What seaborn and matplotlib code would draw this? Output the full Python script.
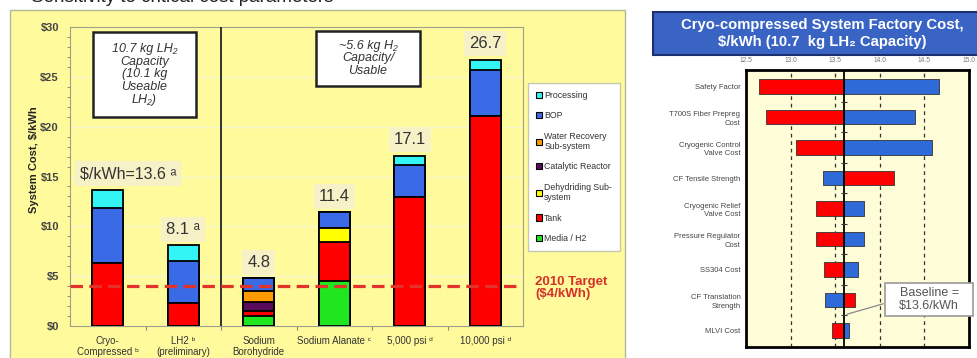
import numpy as np
import pandas as pd
import matplotlib
matplotlib.use("Agg")
import matplotlib.pyplot as plt
from matplotlib.patches import Rectangle, Patch
from matplotlib.ticker import MultipleLocator
import seaborn as sns

# ---- System cost breakdown, $/kWh (stacked bottom -> top) ----
categories = ["Cryo-\nCompressed ᵇ", "LH2 ᵇ\n(preliminary)", "Sodium\nBorohydride",
              "Sodium Alanate ᶜ", "5,000 psi ᵈ", "10,000 psi ᵈ"]
components = ["Media / H2", "Tank", "Dehydriding Sub-\nsystem", "Catalytic Reactor",
              "Water Recovery\nSub-system", "BOP", "Processing"]
media = [0.0, 0.0, 1.0, 4.5, 0.0, 0.0]
tank = [6.3, 2.3, 0.5, 3.9, 12.9, 21.1]
dehydriding = [0.0, 0.0, 0.0, 1.4, 0.0, 0.0]
catalytic = [0.0, 0.0, 0.9, 0.0, 0.0, 0.0]
water_recovery = [0.0, 0.0, 1.1, 0.0, 0.0, 0.0]
bop = [5.5, 4.2, 1.3, 1.6, 3.3, 4.6]
processing = [1.8, 1.6, 0.0, 0.0, 0.9, 1.0]
totals = [13.6, 8.1, 4.8, 11.4, 17.1, 26.7]
total_notes = ["ᵃ", "ᵃ", "", "", "", ""]
target = 4.0

comp_colors = ["#1fe61f", "#ff0000", "#ffff00", "#5a0a5a", "#ff9a00", "#3a6ae6", "#33f5f5"]

# ---- Cryo-compressed sensitivity (tornado), $/kWh ----
params = ["Safety Factor", "T700S Fiber Prepreg\nCost", "Cryogenic Control\nValve Cost",
          "CF Tensile Strength", "Cryogenic Relief\nValve Cost", "Pressure Regulator\nCost",
          "SS304 Cost", "CF Translation\nStrength", "MLVI Cost"]
red_end = [12.65, 12.72, 13.06, 14.16, 13.29, 13.29, 13.37, 13.72, 13.46]
blue_end = [14.66, 14.40, 14.59, 13.36, 13.82, 13.82, 13.75, 13.39, 13.65]
baseline = 13.6
sens_ticks = [12.5, 13.0, 13.5, 14.0, 14.5, 15.0]

sns.set_style("white")
plt.rcParams["font.family"] = ["Liberation Sans", "DejaVu Sans"]

W, H = 977, 358
fig = plt.figure(figsize=(W / 100, H / 100), dpi=100, facecolor="white")


def fx(px):
    return px / W


def fy(py):
    return 1 - py / H


def box(x0, y0, x1, y1, **kw):
    r = Rectangle((fx(x0), fy(y1)), fx(x1) - fx(x0), fy(y0) - fy(y1),
                  transform=fig.transFigure, **kw)
    fig.add_artist(r)
    return r


YELLOW = "#fffb9c"

# slide heading running off the top edge
fig.text(fx(333), fy(1.5), "Sensitivity to critical cost parameters", ha="right",
         va="baseline", fontsize=13.5, color="#222222")

# left panel background
box(10, 10, 625, 365, facecolor=YELLOW, edgecolor="#b5b59a", lw=1.0, zorder=-1)

# ---------------- stacked bar chart ----------------
ax = fig.add_axes([fx(70), fy(326), fx(523) - fx(70), fy(27) - fy(326)])
ax.set_facecolor(YELLOW)

layers = [media, tank, dehydriding, catalytic, water_recovery, bop, processing]
cum = np.zeros(len(categories))
cums = []
for vals in layers:
    cum = cum + np.array(vals)
    cums.append(cum.copy())

for name, color, cvals in reversed(list(zip(components, comp_colors, cums))):
    df = pd.DataFrame({"category": categories, "cost": cvals})
    sns.barplot(data=df, x="category", y="cost", order=categories, color=color,
                saturation=1, width=0.41, edgecolor="black", linewidth=1.3,
                errorbar=None, ax=ax, zorder=2)

ax.set_xlim(-0.5, 5.5)
ax.set_ylim(0, 30)
ax.set_yticks(range(0, 31, 5))
ax.set_yticklabels([f"${v}" for v in range(0, 31, 5)])
ax.yaxis.set_minor_locator(MultipleLocator(1))
ax.tick_params(axis="y", which="major", length=4, width=0.8, color="#8a8a70",
               labelsize=8, labelcolor="#444444", pad=4)
ax.tick_params(axis="y", which="minor", length=2.5, width=0.7, color="#8a8a70", left=True)
for lbl in ax.get_yticklabels():
    lbl.set_fontweight("bold")
ax.set_xticks(range(len(categories)))
ax.set_xticklabels(categories, fontsize=7, color="#333333", linespacing=1.2)
ax.set_xticks(np.arange(0.5, 5.5, 1.0), minor=True)
ax.tick_params(axis="x", which="major", length=0, pad=7)
ax.tick_params(axis="x", which="minor", length=3, width=0.8, color="#8a8a70", bottom=True)
ax.set_xlabel("")
ax.set_ylabel("System Cost, $/kWh", fontsize=8, fontweight="bold", color="#222222")
ax.yaxis.set_label_coords((39 - 70) / 453, (326 - 160) / 299)
ax.grid(axis="y", color="#f9f6d2", lw=1.0)
ax.set_axisbelow(True)
for s in ax.spines.values():
    s.set_color("#a0a088")
    s.set_linewidth(0.8)

ax.axvline(1.5, color="#222222", lw=1.3, zorder=3)
ax.plot([-0.5, 5.46], [target, target], color="#e2332a", lw=2.3, dashes=(3.9, 2),
        zorder=6, clip_on=False)

label_bg = dict(boxstyle="square,pad=0.3", fc="#f6f1c6", ec="none")
for i, (t, note) in enumerate(zip(totals, total_notes)):
    txt = f"{t:.1f}" + (f" {note}" if note else "")
    if i == 0:
        ax.text(-0.37, t + 1.7, "$/kWh=" + txt, ha="left", va="center", fontsize=11.5,
                color="#333333", bbox=label_bg, zorder=5)
    else:
        ax.text(i, t + 1.6, txt, ha="center", va="center", fontsize=12,
                color="#333333", bbox=label_bg, zorder=5)

# capacity boxes
box(93, 32, 196, 117, facecolor="white", edgecolor="#222222", lw=1.8, zorder=4)
fig.text(fx(144.5), fy(74.5), "10.7 kg LH₂\nCapacity\n(10.1 kg\nUseable\nLH₂)",
         ha="center", va="center", fontsize=9, style="italic", color="#333333",
         linespacing=1.1, zorder=5)
box(316, 31, 420, 86, facecolor="white", edgecolor="#222222", lw=1.8, zorder=4)
fig.text(fx(368), fy(58.5), "~5.6 kg H₂\nCapacity/\nUsable", ha="center", va="center",
         fontsize=9, style="italic", color="#333333", linespacing=1.1, zorder=5)

fig.text(fx(535), fy(287.5), "2010 Target\n($4/kWh)", color="#d6302a", fontsize=9.5,
         fontweight="bold", ha="left", va="center", linespacing=1.0)

handles = [Patch(facecolor=c, edgecolor="black", lw=0.8, label=n)
           for n, c in reversed(list(zip(components, comp_colors)))]
fig.legend(handles=handles, loc="upper left", bbox_to_anchor=(fx(528), fy(83)),
           fontsize=6.3, frameon=True, framealpha=1, edgecolor="#c8c8b0", fancybox=False,
           handlelength=0.7, handleheight=0.7, handletextpad=0.25, labelspacing=1.3,
           borderpad=0.9, borderaxespad=0, labelcolor="#333333")

# ---------------- tornado chart ----------------
box(653, 12, 985, 55, facecolor="#3a64c4", edgecolor="#1c2f6e", lw=1.5, zorder=1)
fig.text(fx(822), fy(33.5), "Cryo-compressed System Factory Cost,\n$/kWh (10.7  kg LH₂ Capacity)",
         ha="center", va="center", color="white", fontsize=10.7, fontweight="bold",
         linespacing=1.25, zorder=2)

ax2 = fig.add_axes([fx(746), fy(347), fx(969) - fx(746), fy(70) - fy(347)])
ax2.set_facecolor("#fffcd8")
ypos = np.arange(len(params))
ax2.barh(ypos, np.array(red_end) - baseline, left=baseline, height=0.48,
         color="#ff0000", edgecolor="#333333", lw=0.6, zorder=2)
ax2.barh(ypos, np.array(blue_end) - baseline, left=baseline, height=0.48,
         color="#2f6bd8", edgecolor="#333333", lw=0.6, zorder=2)
for v in sens_ticks[1:-1]:
    ax2.axvline(v, color="#333333", lw=0.9, ls=(0, (3, 3)), zorder=1)
ax2.axvline(baseline, color="black", lw=1.3, zorder=3)
ax2.plot([baseline] * (len(params) - 1), ypos[:-1] + 0.5, ls="none", marker="_",
         ms=4, mew=0.8, color="#333333", zorder=3)
ax2.set_xlim(12.5, 15.0)
ax2.set_ylim(len(params) - 0.45, -0.55)
ax2.xaxis.tick_top()
ax2.set_xticks(sens_ticks)
ax2.set_xticklabels([f"{v:.1f}" for v in sens_ticks])
ax2.tick_params(axis="x", length=0, labelsize=4.8, labelcolor="#777777", pad=4)
ax2.set_yticks(ypos)
ax2.set_yticklabels(params, fontsize=5.5, color="#444444", linespacing=1.35)
ax2.tick_params(axis="y", length=0, pad=4)
for s in ax2.spines.values():
    s.set_color("black")
    s.set_linewidth(2)

box(885, 283, 973, 316, facecolor="white", edgecolor="#9a9a9a", lw=1.2, zorder=4)
fig.text(fx(929), fy(299.5), "Baseline =\n$13.6/kWh", ha="center", va="center",
         fontsize=9, color="#555555", linespacing=1.1, zorder=5)
ax2.annotate("", xy=(baseline, 7.5), xycoords="data", xytext=(fx(886), fy(303)),
             textcoords="figure fraction",
             arrowprops=dict(arrowstyle="-", color="#888888", lw=0.9))

fig.savefig("out.png", dpi=100, facecolor="white")
